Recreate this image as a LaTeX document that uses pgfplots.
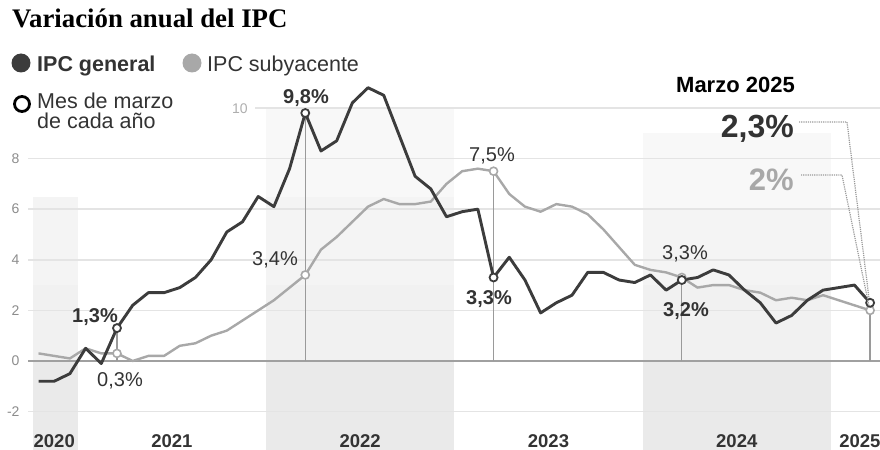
\documentclass[border=0pt]{standalone}
\usepackage{fontspec}
\setmainfont{Liberation Sans}
\newfontfamily\titlefont{Liberation Serif}
\usepackage{pgfplots}
\usepackage{pgfplotstable}
\pgfplotsset{compat=1.18}

\definecolor{gen}{HTML}{3C3C3C}
\definecolor{sub}{HTML}{A8A8A8}
\definecolor{gridc}{HTML}{E4E4E4}
\definecolor{zeroc}{HTML}{A0A0A0}
\definecolor{vline}{HTML}{9A9A9A}
\definecolor{band}{HTML}{EAEAEA}
\definecolor{bandA}{HTML}{F1F1F1}
\definecolor{bandB}{HTML}{F4F4F4}
\definecolor{bandC}{HTML}{F8F8F8}
\definecolor{txt}{HTML}{333333}
\definecolor{tick}{HTML}{8C8C8C}

% month index: 0 = enero 2020
\pgfplotstableread{
m  gen   sub
9  -0.8  0.3
10 -0.8  0.2
11 -0.5  0.1
12  0.5  0.5
13 -0.1  0.3
14  1.3  0.3
15  2.2  0.0
16  2.7  0.2
17  2.7  0.2
18  2.9  0.6
19  3.3  0.7
20  4.0  1.0
21  5.1  1.2
22  5.5  1.6
23  6.5  2.0
24  6.1  2.4
25  7.6  2.9
26  9.8  3.4
27  8.3  4.4
28  8.7  4.9
29 10.2  5.5
30 10.8  6.1
31 10.5  6.4
32  8.9  6.2
33  7.3  6.2
34  6.8  6.3
35  5.7  7.0
36  5.9  7.5
37  6.0  7.6
38  3.3  7.5
39  4.1  6.6
40  3.2  6.1
41  1.9  5.9
42  2.3  6.2
43  2.6  6.1
44  3.5  5.8
45  3.5  5.2
46  3.2  4.5
47  3.1  3.8
48  3.4  3.6
49  2.8  3.5
50  3.2  3.3
51  3.3  2.9
52  3.6  3.0
53  3.4  3.0
54  2.8  2.8
55  2.3  2.7
56  1.5  2.4
57  1.8  2.5
58  2.4  2.4
59  2.8  2.6
60  2.9  2.4
61  3.0  2.2
62  2.3  2.0
}\ipc

\newcommand{\fs}[1]{\fontsize{#1bp}{#1bp}\selectfont}

\begin{document}
\begin{tikzpicture}
\path[use as bounding box] (0bp,0bp) rectangle (880bp,450bp);

\begin{axis}[
  at={(28bp,0bp)}, anchor=south west,
  scale only axis, width=852bp, height=380bp,
  xmin=8.328, xmax=62.63, ymin=-3.518, ymax=11.5,
  clip=false,
  axis on top,
  axis line style={draw=none},
  major tick length=0pt,
  ytick={-2,0,2,4,6,8},
  /pgf/number format/assume math mode=true,
  yticklabel style={font=\fs{14}, text=tick, anchor=east, xshift=-5bp},
  xtick={10,17.5,29.5,41.5,53.5,61.35},
  xticklabels={2020,2021,2022,2023,2024,2025},
  xticklabel style={font=\fs{18.5}\bfseries, text=txt, anchor=base, yshift=3bp},
]

% bandas de año (bajo cero)
\addplot[draw=none, fill=band]
  coordinates {(8.65,-3.518) (11.5,-3.518) (11.5,0) (8.65,0)};
\addplot[draw=none, fill=band]
  coordinates {(23.5,-3.518) (35.5,-3.518) (35.5,0) (23.5,0)};
\addplot[draw=none, fill=band]
  coordinates {(47.5,-3.518) (59.5,-3.518) (59.5,0) (47.5,0)};
% bandas de año (sobre cero, cada vez mas claras)
\addplot[draw=none, fill=bandA] coordinates {(8.65,0) (11.5,0) (11.5,3) (8.65,3)};
\addplot[draw=none, fill=bandB] coordinates {(8.65,3) (11.5,3) (11.5,6.5) (8.65,6.5)};
\addplot[draw=none, fill=bandA] coordinates {(23.5,0) (35.5,0) (35.5,3) (23.5,3)};
\addplot[draw=none, fill=bandB] coordinates {(23.5,3) (35.5,3) (35.5,6.5) (23.5,6.5)};
\addplot[draw=none, fill=bandC] coordinates {(23.5,6.5) (35.5,6.5) (35.5,10) (23.5,10)};
\addplot[draw=none, fill=bandA] coordinates {(47.5,0) (59.5,0) (59.5,3) (47.5,3)};
\addplot[draw=none, fill=bandB] coordinates {(47.5,3) (59.5,3) (59.5,6) (47.5,6)};
\addplot[draw=none, fill=bandC] coordinates {(47.5,6) (59.5,6) (59.5,9) (47.5,9)};

% cuadricula
\addplot[gridc, line width=1.6bp] coordinates {(8.328,-2) (62.63,-2)};
\addplot[gridc, line width=1.6bp] coordinates {(8.328,2) (62.63,2)};
\addplot[gridc, line width=1.6bp] coordinates {(8.328,4) (62.63,4)};
\addplot[gridc, line width=1.6bp] coordinates {(8.328,6) (62.63,6)};
\addplot[gridc, line width=1.6bp] coordinates {(8.328,8) (62.63,8)};
\addplot[gridc, line width=1.6bp] coordinates {(22.8,10) (62.63,10)};
\addplot[zeroc, line width=1.6bp] coordinates {(8.328,0) (62.63,0)};

% lineas verticales de marzo
\addplot[vline, line width=1.3bp] coordinates {(14,0) (14,1.3)};
\addplot[vline, line width=1.3bp] coordinates {(26,0) (26,9.8)};
\addplot[vline, line width=1.3bp] coordinates {(38,0) (38,7.5)};
\addplot[vline, line width=1.3bp] coordinates {(50,0) (50,3.3)};
\addplot[vline, line width=1.3bp] coordinates {(62,0) (62,2.3)};

% series
\addplot[sub, line width=2.4bp, line join=round] table[x=m, y=sub] {\ipc};
\addplot[gen, line width=2.9bp, line join=round] table[x=m, y=gen] {\ipc};

% meses de marzo
\addplot[only marks, mark=*, mark size=4bp, mark options={fill=white, draw=sub, line width=1.6bp}]
  coordinates {(14,0.3) (26,3.4) (38,7.5) (50,3.3) (62,2.0)};
\addplot[only marks, mark=*, mark size=4bp, mark options={fill=white, draw=gen, line width=1.8bp}]
  coordinates {(14,1.3) (26,9.8) (38,3.3) (50,3.2) (62,2.3)};
\end{axis}

\begin{scope}[x=1bp,y=1bp]
% titulo y leyenda
\node[anchor=base west, inner sep=0, text=black] at (12,450-28)
  {\titlefont\fs{26.8}\bfseries Variación anual del IPC};
\fill[gen] (21,450-63) circle (9.5);
\node[anchor=base west, inner sep=0, text=txt] at (37,450-71) {\fs{21.5}\bfseries IPC general};
\fill[sub] (192,450-63) circle (9.5);
\node[anchor=base west, inner sep=0, text=txt] at (207,450-71) {\fs{21.5}IPC subyacente};
\draw[black, line width=2.8] (22,450-104) circle (7.5);
\node[anchor=base west, inner sep=0, text=txt] at (37,450-108) {\fs{21.5}Mes de marzo};
\node[anchor=base west, inner sep=0, text=txt] at (37,450-128) {\fs{21.5}de cada año};

% etiqueta 10
\node[anchor=base, inner sep=0, text=tick!70] at (240,450-113) {\fs{14}10};

% etiquetas de datos
\node[anchor=base, inner sep=0, text=txt] at (95,450-322)  {\fs{20}\bfseries 1,3\%};
\node[anchor=base, inner sep=0, text=txt] at (120,450-386) {\fs{20}0,3\%};
\node[anchor=base, inner sep=0, text=txt] at (306,450-103) {\fs{20}\bfseries 9,8\%};
\node[anchor=base, inner sep=0, text=txt] at (275,450-265) {\fs{20}3,4\%};
\node[anchor=base, inner sep=0, text=txt] at (492,450-161) {\fs{20}7,5\%};
\node[anchor=base, inner sep=0, text=txt] at (489,450-304) {\fs{20}\bfseries 3,3\%};
\node[anchor=base, inner sep=0, text=txt] at (685,450-259) {\fs{20}3,3\%};
\node[anchor=base, inner sep=0, text=txt] at (686,450-316) {\fs{20}\bfseries 3,2\%};

% marzo 2025
\node[anchor=base east, inner sep=0, text=black] at (795,450-92) {\fs{22}\bfseries Marzo 2025};
\node[anchor=base east, inner sep=0, text=txt] at (794,450-137) {\fs{32}\bfseries 2,3\%};
\node[anchor=base east, inner sep=0, text=sub] at (794,450-190) {\fs{31}\bfseries 2\%};
\draw[vline, densely dotted, line width=1.2] (799,450-122) -- (847,450-122) -- (869,450-298);
\draw[vline, densely dotted, line width=1.2] (801,450-175) -- (842,450-175) -- (869,450-306);
\end{scope}
\end{tikzpicture}
\end{document}
